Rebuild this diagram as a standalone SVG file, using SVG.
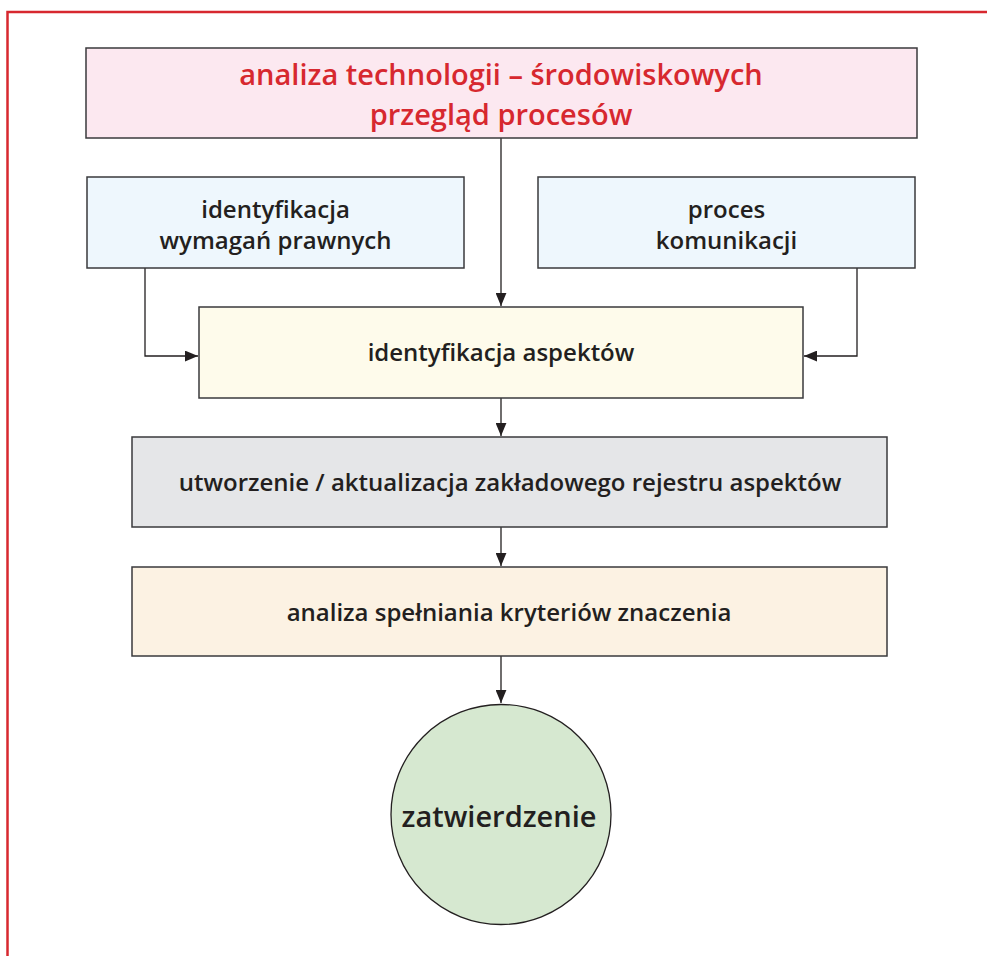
<svg xmlns="http://www.w3.org/2000/svg" width="987" height="956" viewBox="0 0 987 956">
  <style>
    .box { stroke: #3a3a3c; stroke-width: 1.5; }
    .lbl { font-family: "Open Sans", "Noto Sans", sans-serif; font-weight: 600; fill: #231f20; text-anchor: middle; }
    .title { fill: #d7282f; font-size: 29px; }
    .conn { fill: none; stroke: #231f20; stroke-width: 1.3; }
  </style>
  <defs>
    <marker id="arrow" viewBox="0 0 12 10" refX="12" refY="5" markerWidth="13" markerHeight="11" markerUnits="userSpaceOnUse" orient="auto">
      <path d="M0,0 L12,5 L0,10 z" fill="#231f20"/>
    </marker>
  </defs>

  <rect x="0" y="0" width="987" height="956" fill="#ffffff"/>
  <!-- outer frame -->
  <path d="M7.5,960 V12 H990" fill="none" stroke="#d7282f" stroke-width="2.5"/>

  <g id="connectors">
    <path class="conn" d="M501,138 V306" marker-end="url(#arrow)"/>
    <path class="conn" d="M145,268 V356 H198" marker-end="url(#arrow)"/>
    <path class="conn" d="M857,268 V356 H804" marker-end="url(#arrow)"/>
    <path class="conn" d="M501,398 V436" marker-end="url(#arrow)"/>
    <path class="conn" d="M501,527 V566" marker-end="url(#arrow)"/>
    <path class="conn" d="M501,656 V703" marker-end="url(#arrow)"/>
  </g>

  <g id="analiza-technologii">
    <rect class="box" x="86" y="48" width="831" height="90" fill="#fce8f0"/>
    <text class="lbl title" x="501" y="85">analiza technologii – środowiskowych</text>
    <text class="lbl title" x="501" y="125">przegląd procesów</text>
  </g>

  <g id="wymagania-prawne">
    <rect class="box" x="87" y="177" width="377" height="91" fill="#eef7fd"/>
    <text class="lbl" x="275.5" y="218" font-size="24">identyfikacja</text>
    <text class="lbl" x="275.5" y="249" font-size="24">wymagań prawnych</text>
  </g>

  <g id="proces-komunikacji">
    <rect class="box" x="538" y="177" width="377" height="91" fill="#eef7fd"/>
    <text class="lbl" x="726.5" y="218" font-size="24">proces</text>
    <text class="lbl" x="726.5" y="249" font-size="24">komunikacji</text>
  </g>

  <g id="identyfikacja-aspektow">
    <rect class="box" x="199" y="307" width="604" height="91" fill="#fefbeb"/>
    <text class="lbl" x="501" y="361" font-size="24">identyfikacja aspektów</text>
  </g>

  <g id="rejestr-aspektow">
    <rect class="box" x="132" y="437" width="755" height="90" fill="#e5e6e8"/>
    <text class="lbl" x="510" y="491" font-size="24">utworzenie / aktualizacja zakładowego rejestru aspektów</text>
  </g>

  <g id="kryteria-znaczenia">
    <rect class="box" x="132" y="567" width="755" height="89" fill="#fcf2e3"/>
    <text class="lbl" x="509" y="621" font-size="24">analiza spełniania kryteriów znaczenia</text>
  </g>

  <g id="zatwierdzenie">
    <circle cx="501" cy="814.5" r="110" fill="#d6e8d0" stroke="#231f20" stroke-width="1.3"/>
    <text class="lbl" x="499" y="827" font-size="29">zatwierdzenie</text>
  </g>
</svg>
